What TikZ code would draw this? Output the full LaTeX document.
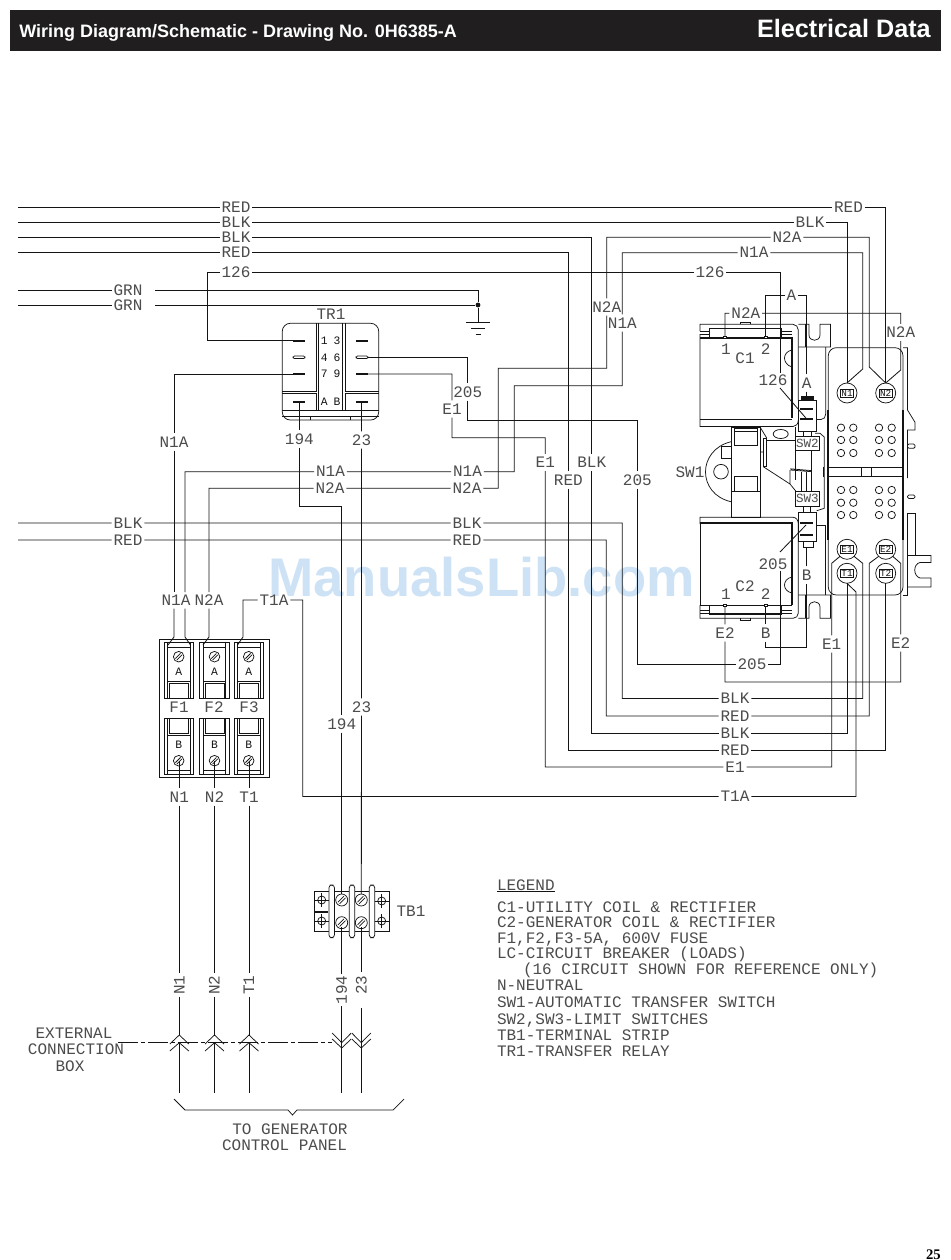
\documentclass[tikz,border=0pt]{standalone}
\usepackage{fontspec}
\setmainfont{Liberation Sans}
\newfontfamily\cad{Liberation Mono}
\newfontfamily\ser{Liberation Serif}
\definecolor{lblc}{gray}{0.3}
\definecolor{inkc}{gray}{0.08}
\definecolor{barc}{RGB}{32,30,30}
\definecolor{wmc}{RGB}{206,226,246}
\setlength\fboxsep{0.5pt}
\setlength\fboxrule{0.45pt}
\newcommand\screwpic[3]{%
  \draw[hw] (#1,#2) circle[radius=#3];
  \draw[hw] ({#1-0.62*#3},{#2+0.35*#3}) -- ({#1+0.35*#3},{#2-0.62*#3});
  \draw[hw] ({#1-0.35*#3},{#2+0.62*#3}) -- ({#1+0.62*#3},{#2-0.35*#3});}
\newcommand\crosspic[2]{%
  \draw[hw] (#1,#2) circle[radius=4];
  \draw[hw] ({#1-7},#2) -- ({#1+7},#2);
  \draw[hw] (#1,{#2-7}) -- (#1,{#2+7});}
\tikzset{
  wire/.style={draw=inkc,line width=0.62pt},
  hw/.style={draw=inkc,line width=0.55pt},
  heavy/.style={draw=inkc,line width=1.25pt},
  lbl/.style={font=\cad\fontsize{12pt}{14pt}\selectfont,text=lblc,inner xsep=1.5pt,inner ysep=2.5pt,
    outer sep=0pt,text height=7.8pt,text depth=0pt},
  txt/.style={font=\cad\fontsize{12pt}{14pt}\selectfont,text=lblc,inner sep=0pt,outer sep=0pt,anchor=west,
    text height=7.8pt,text depth=0pt},
  tiny/.style={font=\cad\fontsize{8.5pt}{9pt}\selectfont,text=inkc,inner sep=0pt,text height=5.6pt,text depth=0pt},
  termc/.style={circle,draw=inkc,line width=0.55pt,minimum size=15pt,inner sep=0pt,outer sep=0pt,
    font=\cad\fontsize{7pt}{7.5pt}\selectfont,text=inkc},
}
\begin{document}
\begin{tikzpicture}[x=0.75pt,y=-0.75pt]
\useasboundingbox (0,0) rectangle (950,1260);
\fill[white] (0,0) rectangle (950,1260);
% header
\node[fill=barc,minimum width=698.25pt,minimum height=31pt,inner sep=0pt,anchor=north west] (bar) at (10,9.5) {};
\node[anchor=base west,inner sep=0pt,text=white,font=\bfseries\fontsize{13.5pt}{15pt}\selectfont] (title) at (19,37) {Wiring Diagram/Schematic - Drawing No. 0H6385-A};
\node[anchor=base east,inner sep=0pt,text=white,font=\bfseries\fontsize{18.9pt}{21pt}\selectfont] (sect) at (931,37) {Electrical Data};
\node[anchor=base east,inner sep=0pt,font=\ser\bfseries\fontsize{11pt}{12pt}\selectfont] (pageno) at (941,1259.5) {25};
% watermark
\node[inner sep=0pt,text=wmc,font=\bfseries\fontsize{40.8pt}{44pt}\selectfont] (wm) at (481.5,577) {ManualsLib.com};

% free wire ends
\foreach \n/\x/\y in {sRa/18/207,sBa/18/222,sBb/18/237.3,sRb/18/252.7,sGa/18/290,sGb/18/305,
  gGa/155/290,gGb/155/305,sBe/18/523,sRe/18/540,
  t1/293/340.7,t6/367.7/357.3,t7/293/374,t9/367.7/374,tA/299.3/402,tB/361.5/402,
  fN1a/174/637,fN1b/185/637,fN2/209/637,fT1/243/637,
  dN1a/168/645,dN1b/190.5/645,dN2/203/645,dT1/237.5/645,
  aN1a/174/592,aN1b/185/592,aN2/209/592,
  sN1/179.3/761,sN2/214.5/761,sT1/249/761,
  cA1/725/337,cB1/765.7/337,cA2/725/606,cB2/765.7/606,
  c126u/780/373,c126l/780/388,c126e/806.7/419,c205u/780/552,c205l/780/571,c205e/806/525,
  rAt/806.7/397,rBb/806.7/547,
  b194a/341.7/894,b23a/361.3/894,b194b/341.7/927,b23b/361.3/927,
  u23b/361.3/972,d23b/361.3/1008,
  eN1/179.3/1035,eN2/214.5/1035,eT1/249/1035,e194/341.7/1048,e23/361.3/1048,
  oN1/179.3/1043,oN2/214.5/1043,oT1/249/1043,
  zN1/179.3/1093,zN2/214.5/1093,zT1/249/1093,z194/341.7/1093,z23/361.3/1093,
  gndT/478/322,ddL/118/1042,ddR/332/1042}
  {\coordinate (\n) at (\x,\y);}

% wire labels
\foreach \n/\x/\y/\t in {lRa/236/207/RED,lBa/236/222/BLK,lBb/236/237.3/BLK,lRb/236/252.7/RED,lA26/236/272.5/126,
  lGa/128/290/GRN,lGb/128/305/GRN,
  lRc/848.5/207/RED,lBc/810/222/BLK,lN2a/787/237.3/N2A,lN1a/754/252.7/N1A,lB26/710/272.5/126,
  lN2t/745.8/313.3/N2A,lAt/791.5/295.5/A,lN2s/900.7/332.5/N2A,lAs/806.7/383/A,
  lN2v/606.7/307/N2A,lN1v/622.3/323/N1A,lBv/591.7/462.5/BLK,lRv/568.3/480/RED,lE1b/545.3/462.5/E1,lB05/637.3/480/205,
  lA05/467.7/392/205,lE1a/452/409/E1,
  lN1m/330.5/471.7/N1A,lN1r/467.5/471.7/N1A,lN2m/330/488.3/N2A,lN2r/467/488.3/N2A,
  lBe/128/523/BLK,lBf/467/523/BLK,lRe/128/540/RED,lRf/467/540/RED,
  lN1l/174/442/N1A,lA94/299.3/439/194,lA23/361.5/440/23,lB94/341.7/724/194,lB23/361.5/707/23,
  lBg/735/698.5/BLK,lRg/735/716/RED,lBh/735/733/BLK,lRh/735/750/RED,lE1c/735/767/E1,lT1b/735/796.5/T1A,
  lC05/752/664.3/205,lE2a/725/633/E2,lBb2/765.7/633/B,lBr/806.7/575/B,lE1d/831.7/644/E1,lE2b/900.7/643/E2,
  lN1b/179.3/797/N1,lN2b/214.5/797/N2,lT1c/249/797/T1}
  {\node[lbl] (\n) at (\x,\y) {\t};}
\foreach \n/\x/\y/\t in {rN1/179.3/985/N1,rN2/214.5/985/N2,rT1/249/985/T1,r194/341.7/990/194}
  {\node[lbl,rotate=90] (\n) at (\x,\y) {\t};}
\node[lbl,rotate=90] (r23) at (361.3,985) {23};
\node[lbl] (lN1f) at (176,600) {N1A};
\node[lbl] (lN2f) at (209,600) {N2A};
\node[lbl] (lT1a) at (274,600) {T1A};
\node[lbl] (lC26) at (773,380) {126};
\node[lbl] (lD05) at (773,564) {205};

% terminals
\foreach \n/\x/\y/\t in {tN1/847/393/N1,tN2/885.7/393/N2,tE1/847/549.3/E1,tE2/885.7/549.3/E2,tT1/847/573.3/T1,tT2/885.7/573.3/T2}
  {\node[termc] (\n) at (\x,\y) {\fbox{\t}};}

% wires
\draw[wire] (sRa) -- (lRa) -- (lRc) -- (885.7,207) -- (tN2.north);
\draw[wire] (sBa) -- (lBa) -- (lBc) -- (847,222) -- (tN1.north);
\draw[wire] (sBb) -- (lBb) -- (591.7,237.3) -- (lBv) -- (591.7,733) -- (lBh) -- (847,733) -- (tT1.south);
\draw[wire] (sRb) -- (lRb) -- (568.3,252.7) -- (lRv) -- (568.3,750) -- (lRh) -- (885.7,750) -- (tT2.south);
\draw[wire] (aN2) -- (209,488.3) -- (lN2m) -- (lN2r) -- (498.3,488.3) -- (498.3,368.3) -- (606.7,368.3) -- (lN2v) -- (606.7,237.3) -- (lN2a) -- (869.3,237.3) -- (869.3,367) -- (tN2.north);
\draw[wire] (aN1b) -- (185,471.7) -- (lN1m) -- (lN1r) -- (514.3,471.7) -- (514.3,385.7) -- (622.3,385.7) -- (lN1v) -- (622.3,252.7) -- (lN1a) -- (862.7,252.7) -- (862.7,369) -- (tN1.north);
\draw[wire] (t7) -- (174,374) -- (lN1l) -- (aN1a);
\draw[wire] (dN1a) -- (fN1a) -- (lN1f.south -| fN1a);
\draw[wire] (dN1b) -- (fN1b) -- (lN1f.south -| fN1b);
\draw[wire] (dN2) -- (fN2) -- (lN2f);
\draw[wire] (t1) -- (207,340.7) -- (207,272.5) -- (lA26) -- (lB26) -- (780,272.5) -- (c126u);
\draw[wire] (c126l) -- (c126e);
\draw[wire] (cB1) -- (765.7,295.5) -- (lAt) -- (806.7,295.5) -- (lAs) -- (rAt);
\draw[wire] (cA1) -- (725,313.3) -- (lN2t) -- (900.7,313.3) -- (lN2s) -- (900.7,370) -- (tN2.north);
\draw[wire] (t9) -- (452,374) -- (lE1a) -- (452,437.7) -- (545.3,437.7) -- (lE1b) -- (545.3,767) -- (lE1c) -- (831.7,767) -- (lE1d) -- (831.7,563.3) -- (tE1.south west);
\draw[wire] (t6) -- (467.7,357.3) -- (lA05) -- (467.7,420) -- (637.3,420) -- (lB05) -- (637.3,664.3) -- (lC05) -- (780,664.3) -- (c205l);
\draw[wire] (c205u) -- (c205e);
\draw[wire] (sBe) -- (lBe) -- (lBf) -- (622.3,523) -- (622.3,698.5) -- (lBg) -- (862.7,698.5) -- (862.7,563.3) -- (tE1.south east);
\draw[wire] (sRe) -- (lRe) -- (lRf) -- (606.3,540) -- (606.3,716) -- (lRg) -- (869.3,716) -- (869.3,563.3) -- (tE2.south west);
\draw[wire] (cA2) -- (lE2a) -- (725,682) -- (900.7,682) -- (lE2b) -- (900.7,563.3) -- (tE2.south east);
\draw[wire] (cB2) -- (lBb2) -- (765.7,647) -- (806.7,647) -- (lBr) -- (rBb);
\draw[wire] (dT1) -- (fT1) -- (243,600) -- (lT1a) -- (302.7,600) -- (302.7,796.5) -- (lT1b) -- (856,796.5) -- (856,592) -- (tT1.south);
\draw[wire] (tA) -- (lA94) -- (299.3,506.5) -- (341.7,506.5) -- (lB94) -- (b194a);
\draw[wire] (tB) -- (lA23) -- (lB23) -- (b23a);
\draw[wire] (sGa) -- (lGa); \draw[wire] (sGb) -- (lGb);
\node[circle,fill=inkc,inner sep=0pt,minimum size=3.6pt] (gnd) at (478,305) {};
\draw[wire] (gGa) -- (478,290) -- (gnd);
\draw[wire] (gGb) -- (gnd);
\draw[wire] (gnd) -- (gndT);
\draw[hw] (466,322) -- (490,322) (471,328) -- (485,328) (475.5,334) -- (480.5,334);
% lower run
\draw[wire] (sN1) -- (lN1b) -- (rN1) -- (eN1);
\draw[wire] (sN2) -- (lN2b) -- (rN2) -- (eN2);
\draw[wire] (sT1) -- (lT1c) -- (rT1) -- (eT1);
\draw[wire] (b194b) -- (r194) -- (e194);
\draw[wire] (b23b) -- (u23b);
\draw[wire] (d23b) -- (e23);
\draw[wire] (oN1) -- (zN1); \draw[wire] (oN2) -- (zN2); \draw[wire] (oT1) -- (zT1);
\draw[wire] (e194) -- (z194); \draw[wire] (e23) -- (z23);
\draw[wire,dash pattern=on 15pt off 2.5pt on 2.5pt off 2.5pt] (ddL) -- (ddR);
\foreach \x in {179.3,214.5,249}{
  \draw[hw] ({\x-9.5},1044) -- (\x,1035) -- ({\x+9.5},1044);
  \draw[hw] ({\x-9.5},1051) -- (\x,1042.7) -- ({\x+9.5},1051);}
\foreach \x in {341.7,361.3}{
  \draw[hw] ({\x-9.5},1033) -- (\x,1042.7) -- ({\x+9.5},1033);
  \draw[hw] ({\x-9.5},1039) -- (\x,1048) -- ({\x+9.5},1039);}
\draw[hw] (174,1099) -- (185,1110) -- (288,1110) -- (292.5,1115) -- (297,1110) -- (393,1110) -- (404,1099);

% TR1
\node[lbl] (tr1) at (331,314) {TR1};
\draw[hw,rounded corners=6pt] (282.3,420) -- (282.3,323.3) -- (378.7,323.3) -- (378.7,420) -- cycle;
\draw[hw] (282.3,391) -- (316.7,391) -- (316.7,323.3);
\draw[hw] (318.7,323.3) -- (318.7,410) -- (342.5,410) -- (342.5,323.3);
\draw[hw] (345.7,323.3) -- (345.7,391) -- (378.7,391);
\draw[hw] (282.3,393.3) -- (316.7,393.3) -- (316.7,410) -- (282.3,410);
\draw[hw] (378.7,393.3) -- (345.7,393.3) -- (345.7,410) -- (378.7,410);
\draw[hw] (282.3,416.7) -- (378.7,416.7) (310,416.7) -- (310,420) (350.7,416.7) -- (350.7,420) (316.7,410) -- (345.7,410);
\foreach \x in {293,356}{
  \draw[heavy] (\x,340.7) -- ({\x+12},340.7) (\x,374) -- ({\x+12},374);
  \draw[hw,rounded corners=1pt] (\x,356) rectangle ({\x+12},358.6);}
\draw[heavy] (293,402) -- (305,402) (356,402) -- (368,402);
\foreach \n/\x/\y/\t in {d1/324.3/341/1,d3/337/341/3,d4/324.3/357.5/4,d6/337/357.5/6,d7/324.3/374/7,d9/337/374/9,dA/324.3/402/A,dB/337/402/B}
  {\node[tiny] (\n) at (\x,\y) {\t};}

% fuses
\draw[hw] (159.3,639.3) rectangle (269,777.3);
\foreach \x in {178.7,214.5,248.7}{
  \draw[hw] ({\x-14.7},642.7) rectangle ({\x+14.7},698.3);
  \draw[hw] ({\x-11.3},642.7) -- ({\x-11.3},698.3) ({\x+11.3},642.7) -- ({\x+11.3},698.3);
  \draw[hw] ({\x-11.3},647.3) -- ({\x+11.3},647.3) ({\x-11.3},681.7) -- ({\x+11.3},681.7);
  \draw[hw] ({\x-9.5},698.3) -- ({\x-9.5},683) -- ({\x+9.5},683) -- ({\x+9.5},698.3);
  \screwpic{\x}{656.7}{5.3}
  \node[tiny] at (\x,672) {A};
  \draw[hw] ({\x-14.7},718.3) rectangle ({\x+14.7},774);
  \draw[hw] ({\x-11.3},718.3) -- ({\x-11.3},774) ({\x+11.3},718.3) -- ({\x+11.3},774);
  \draw[hw] ({\x-11.3},735) -- ({\x+11.3},735) ({\x-11.3},770) -- ({\x+11.3},770);
  \draw[hw] ({\x-9.5},718.3) -- ({\x-9.5},733) -- ({\x+9.5},733) -- ({\x+9.5},718.3);
  \screwpic{\x}{760.7}{5.3}
  \node[tiny] at (\x,745) {B};}
\node[lbl] (f1) at (179,707) {F1};
\node[lbl] (f2) at (214,707) {F2};
\node[lbl] (f3) at (249,707) {F3};

% TB1
\draw[hw] (314.3,891.3) rectangle (389.3,931.7);
\foreach \x in {331.7,352,372}{\draw[hw,fill=white,rounded corners=2.2pt] ({\x-2.8},885) rectangle ({\x+2.8},937.7);}
\screwpic{341.7}{900}{6}\screwpic{341.7}{922.7}{6}\screwpic{361.3}{900}{6}\screwpic{361.3}{922.7}{6}
\crosspic{321.7}{900}\crosspic{321.7}{921}\crosspic{381.7}{901}\crosspic{381.7}{921}
\draw[heavy] (315,911.7) -- (328,911.7);
\node[lbl] (tb1) at (411,911) {TB1};

% C1 coil
\draw[hw] (700,331) -- (700,324.3) -- (793,324.3) .. controls (796,324.3) and (798.3,327) .. (798.3,330) -- (798.3,400);
\draw[hw] (740,324.3) -- (740,322.5) -- (750,322.5) -- (750,324.3);
\draw[hw] (709,328) rectangle (781,337.7);
\draw[hw] (700,331) -- (709,331) (700,334) -- (709,334) (781,331) -- (792,331) (781,334) -- (792,334);
\draw[hw] (700,334) -- (700,426.5) -- (793,426.5) .. controls (796,426.5) and (798.3,424) .. (798.3,420);
\draw[hw] (700,419) -- (792,419);
\draw[heavy] (700,338) -- (792,338) -- (792,418);
\draw[hw] (792,350) .. controls (782,352) and (782,364) .. (792,367);
\fill[white,draw=inkc,line width=0.4pt] (723.5,336) rectangle (726.5,338.5) (764.2,336) rectangle (767.2,338.5);
% C2 coil
\draw[hw] (700,524) -- (700,517.3) -- (793,517.3) .. controls (796,517.3) and (798.3,520) .. (798.3,524) -- (798.3,613) .. controls (798.3,616) and (796,618.3) .. (793,618.3) -- (700,618.3) -- (700,605);
\draw[hw] (740,618.3) -- (740,620) -- (750,620) -- (750,618.3);
\draw[hw] (709,605) rectangle (781,614.3);
\draw[hw] (700,610) -- (709,610) (700,613) -- (709,613) (781,610) -- (792,610) (781,613) -- (792,613);
\draw[hw] (700,524) -- (700,605) -- (792,605);
\draw[heavy] (700,523.3) -- (792,523.3) -- (792,605);
\draw[heavy] (709,614.3) -- (781,614.3);
\draw[hw] (792,577) .. controls (782,579) and (782,591) .. (792,593);
\fill[white,draw=inkc,line width=0.4pt] (723.5,604) rectangle (726.5,606.5) (764.2,604) rectangle (767.2,606.5);
\node[lbl] (c1) at (745,358) {C1};
\node[lbl] (c2) at (745,586) {C2};
\node[lbl] (c1a) at (726,349) {1};
\node[lbl] (c1b) at (765.7,349) {2};
\node[lbl] (c2a) at (726,594) {1};
\node[lbl] (c2b) at (765.7,594) {2};
% top and bottom brackets
\draw[hw] (798.3,324.3) -- (809,324.3) -- (809,335) .. controls (809,342) and (820,342) .. (820,335) -- (820,324.3) -- (830.5,324.3) -- (830.5,347) -- (798.3,347);
\draw[hw] (805,324.3) -- (805,347);
\draw[hw] (798.3,618.3) -- (809,618.3) -- (809,607) .. controls (809,600) and (820,600) .. (820,607) -- (820,618.3) -- (830.5,618.3) -- (830.5,595) -- (798.3,595);
\draw[hw] (805,595) -- (805,618.3);
% rectifiers
\draw[hw] (798.3,400) rectangle (816.7,431.7);
\draw[hw] (803,431.7) -- (803,436) (811,431.7) -- (811,436);
\draw[hw,fill=inkc] (801.7,396.7) rectangle (813.3,400);
\draw[heavy] (800,409) -- (813,409) (800,419) -- (813,419);
\draw[hw] (798.3,512.7) rectangle (816.7,541.7);
\draw[hw] (803,541.7) rectangle (813,547);
\draw[hw] (803.7,506.7) rectangle (810,512.7);
\draw[heavy] (800,522.7) -- (813,522.7) (800,535) -- (813,535);
\draw[hw] (816.7,419.5) -- (821,419.5) .. controls (824,419.5) and (825.7,417) .. (825.7,414) -- (825.7,347);
\draw[hw] (815,433.3) -- (820,433.3) -- (824.3,437) -- (824.3,508.3) -- (816.7,510.7);
\draw[hw] (816.7,525.7) -- (825.7,525.7) -- (825.7,595);
\draw[heavy] (823.5,467) -- (823.5,477);
% limit switches
\node[lbl,draw=inkc,line width=0.55pt,inner sep=0pt,minimum width=17.5pt,minimum height=11pt,font=\cad\fontsize{9.4pt}{10pt}\selectfont,text height=6.2pt] (sw2) at (807.4,443.4) {SW2};
\node[lbl,draw=inkc,line width=0.55pt,inner sep=0pt,minimum width=17.5pt,minimum height=11.6pt,font=\cad\fontsize{9.4pt}{10pt}\selectfont,text height=6.2pt] (sw3) at (807.4,498.8) {SW3};
\draw[hw] (sw2.south east) ++(-7.5,0) -- ++(0,40.3);
\draw[hw] (795.7,450.7) -- (795.7,480) (795.7,427) -- (795.7,436);
\draw[hw] (790,470) -- (790,484) -- (795.7,491) (763.3,466.7) -- (790,484);
\draw[hw] (790.3,470) -- (811.7,471.7) (790.3,468.8) -- (811.7,470.6);
\draw[hw] (801.7,472) -- (801.7,491) (806.7,472) -- (806.7,491);
% SW1 mechanism
\node[lbl] (sw1) at (690,472) {SW1};
\draw[hw] (731.7,427) rectangle (760,517.3);
\draw[hw] (734.3,428.3) rectangle (757.7,445);
\draw[hw] (734.3,431.7) -- (757.7,431.7);
\draw[hw] (734.3,476.7) rectangle (757.7,491.7);
\draw[hw] (731.7,491.7) -- (760,491.7);
\draw[hw] (763,438) rectangle (766.7,466.7);
\draw[hw] (760,452) -- (763,452) (760,427) -- (766.7,438);
\draw[hw] (766.7,440) -- (795.7,440);
\draw[hw] (731,441.7) .. controls (697,450) and (697,494) .. (731,501.7);
\draw[hw] (721,471.7) circle[radius=7.3];
\draw[hw] (721,446.7) rectangle (731.7,458);
\draw[hw] (780.7,434) ellipse[x radius=7.5,y radius=4.5];
% main plate
\draw[hw,rounded corners=6pt] (828.3,467.3) -- (828.3,347.7) -- (903,347.7) -- (903,467.3);
\draw[hw] (828.3,467.3) -- (903,467.3) (828.3,476) -- (903,476) (861.7,467.3) -- (861.7,476) (871.7,467.3) -- (871.7,476);
\draw[hw,rounded corners=6pt] (828.3,476) -- (828.3,595) -- (903,595) -- (903,476);
\draw[heavy] (828.3,410) -- (828.3,540) (903,410) -- (903,540);
\draw[hw] (903,347.7) -- (907.5,347.7) -- (907.5,410) -- (915,422.3) -- (915,430) -- (907.5,430) -- (907.5,478);
\draw[hw,rounded corners=1pt] (907.5,444) rectangle (915,448.3) (907.5,495) rectangle (915,498.5);
\draw[hw] (907.5,513.3) -- (915,513.3) -- (915,555);
\draw[hw] (907.5,513.3) -- (907.5,595) -- (903,595);
\draw[hw] (907.5,555.5) -- (931,555.5) -- (931,562.5) -- (920,562.5) .. controls (913,564) and (913,576) .. (920,578) -- (931,578) -- (931,587) -- (907.5,587);
\foreach \x in {841,853.3,879,891.7}\foreach \y in {427.7,440,453,490,502.7,515}
  {\draw[hw] (\x,\y) circle[radius=3.7];}

% external labels
\node[lbl] (ext1) at (74,1033) {EXTERNAL};
\node[lbl] (ext2) at (76,1049) {CONNECTION};
\node[lbl] (ext3) at (70,1066) {BOX};
\node[lbl] (gen1) at (290,1129) {TO GENERATOR};
\node[lbl] (gen2) at (284.5,1145) {CONTROL PANEL};
% legend
\node[txt] (leg0) at (497,885) {LEGEND};
\draw[hw] (497,891.5) -- (555,891.5);
\node[txt] (leg1) at (497,907) {C1-UTILITY COIL \& RECTIFIER};
\node[txt] (leg2) at (497,922.7) {C2-GENERATOR COIL \& RECTIFIER};
\node[txt] (leg3) at (497,938) {F1,F2,F3-5A, 600V FUSE};
\node[txt] (leg4) at (497,953) {LC-CIRCUIT BREAKER (LOADS)};
\node[txt] (leg5) at (523,969) {(16 CIRCUIT SHOWN FOR REFERENCE ONLY)};
\node[txt] (leg6) at (497,985) {N-NEUTRAL};
\node[txt] (leg7) at (497,1002) {SW1-AUTOMATIC TRANSFER SWITCH};
\node[txt] (leg8) at (497,1019) {SW2,SW3-LIMIT SWITCHES};
\node[txt] (leg9) at (497,1035) {TB1-TERMINAL STRIP};
\node[txt] (leg10) at (497,1051) {TR1-TRANSFER RELAY};
\end{tikzpicture}
\end{document}
